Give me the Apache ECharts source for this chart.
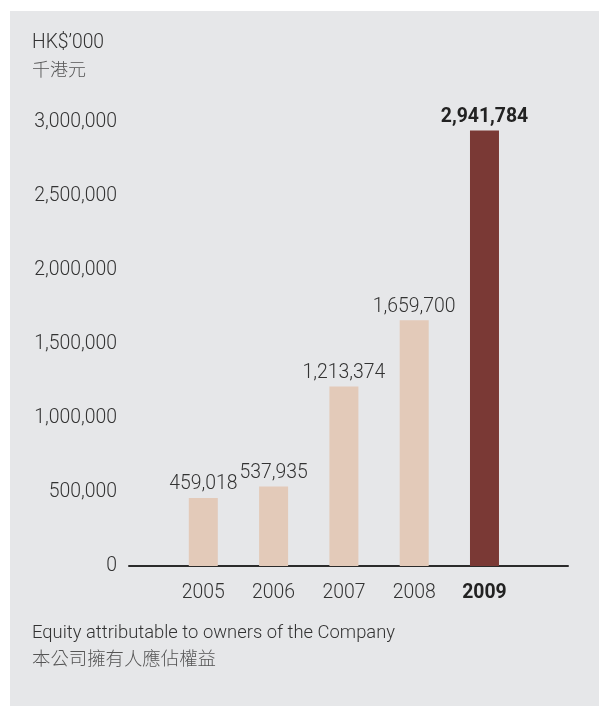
<!DOCTYPE html>
<html><head><meta charset="utf-8">
<script src="https://cdn.jsdelivr.net/npm/echarts@6/dist/echarts.min.js"></script>
<style>html,body{margin:0;padding:0;background:#fff;}#c{width:599px;height:706px;}</style>
</head><body><div id="c"></div>
<script>
const years = [2005, 2006, 2007, 2008, 2009];
const values = [459018, 537935, 1213374, 1659700, 2941784];
const yTicks = [0, 500000, 1000000, 1500000, 2000000, 2500000, 3000000];
const highlightYear = 2009;

const LIGHT = '#e3cab9', DARK = '#7a3935';
const FONT = 'Roboto, "Liberation Sans", sans-serif';
const CJK = '"Noto Sans CJK TC", "Noto Sans CJK SC", sans-serif';
const NUM = 19.4;
const fmt = v => Number(v).toLocaleString('en-US');

const chart = echarts.init(document.getElementById('c'));
chart.setOption({
  backgroundColor: '#ffffff',
  animation: false,
  graphic: [{ type: 'rect', z: -10, silent: true, shape: { x: 10, y: 11, width: 589, height: 695 }, style: { fill: '#e6e7e9' } }],
  title: [
    { text: "HK$’000", left: 32, top: 34, padding: 0, textStyle: { fontFamily: FONT, fontWeight: 300, fontSize: 19.3, color: '#333' } },
    { text: '千港元', left: 32, top: 60, padding: 0, textStyle: { fontFamily: CJK, fontWeight: 300, fontSize: 18, color: '#555' } },
    { text: 'Equity attributable to owners of the Company', left: 32, top: 624, padding: 0, textStyle: { fontFamily: FONT, fontWeight: 300, fontSize: 18.4, color: '#333' } },
    { text: '本公司擁有人應佔權益', left: 32, top: 649, padding: 0, textStyle: { fontFamily: CJK, fontWeight: 300, fontSize: 18.4, color: '#555' } }
  ],
  grid: { left: 129, right: 31, top: 122, bottom: 140, containLabel: false },
  xAxis: {
    type: 'value', min: 2003.943, max: 2010.188,
    splitLine: { show: false },
    axisTick: { show: false },
    axisLine: { show: true, onZero: false, lineStyle: { color: '#2b2b2b', width: 2 } },
    axisLabel: {
      customValues: years, margin: 18,
      fontFamily: FONT, fontSize: NUM, fontWeight: 300, color: '#333',
      formatter: v => v === highlightYear ? '{b|' + v + '}' : String(v),
      rich: { b: { fontFamily: FONT, fontSize: NUM, fontWeight: 'bold', color: '#222' } }
    }
  },
  yAxis: {
    type: 'value', min: 0, max: 3000000, interval: 500000,
    splitLine: { show: false }, axisLine: { show: false }, axisTick: { show: false },
    axisLabel: { margin: 12, padding: [4, 0, 0, 0], fontFamily: FONT, fontSize: NUM, fontWeight: 300, color: '#333', formatter: v => fmt(v) }
  },
  series: [{
    type: 'bar', barWidth: 29,
    data: years.map((y, i) => ({
      value: [y, values[i]],
      itemStyle: { color: y === highlightYear ? DARK : LIGHT },
      label: y === highlightYear ? { fontWeight: 'bold', color: '#222' } : {}
    })),
    label: {
      show: true, position: 'top', distance: 4,
      fontFamily: FONT, fontSize: NUM, fontWeight: 300, color: '#333',
      formatter: p => fmt(p.value[1])
    }
  }]
});
</script></body></html>
